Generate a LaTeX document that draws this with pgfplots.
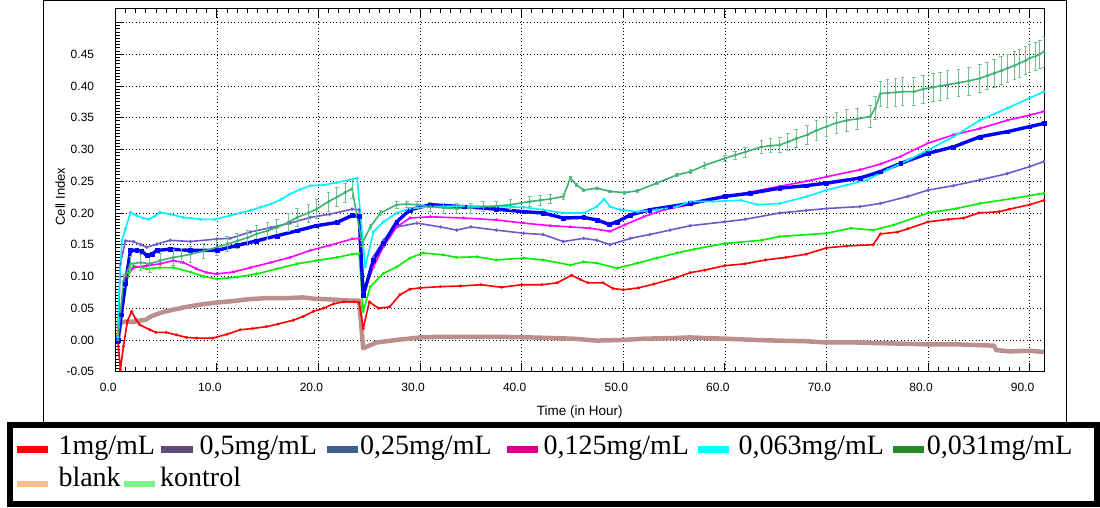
\documentclass[border=0pt]{standalone}
\usepackage{fontspec}
\setmainfont{Liberation Serif}
\newfontfamily\axfont{Liberation Sans}
\usepackage{pgfplots}
\pgfplotsset{compat=1.18}
\usepackage{pgfplotstable}

% plot colours
\definecolor{cred}{RGB}{255,0,0}
\definecolor{cpurple}{RGB}{106,90,205}
\definecolor{cblue}{RGB}{0,0,255}
\definecolor{cmagenta}{RGB}{255,0,255}
\definecolor{ccyan}{RGB}{0,240,255}
\definecolor{clime}{RGB}{0,240,0}
\definecolor{cbrown}{RGB}{188,143,143}
\definecolor{ckontrol}{RGB}{60,179,113}
\definecolor{kerr}{RGB}{110,195,145}
% legend colours
\definecolor{lred}{RGB}{255,0,0}
\definecolor{lpurple}{RGB}{96,76,122}
\definecolor{lblue}{RGB}{61,96,140}
\definecolor{lmagenta}{RGB}{210,0,140}
\definecolor{lcyan}{RGB}{0,255,255}
\definecolor{lgreen}{RGB}{34,139,34}
\definecolor{lpeach}{RGB}{250,190,140}
\definecolor{llight}{RGB}{120,245,130}

\pgfplotstableread{
x y e
0.25 0.000 0.003
0.8 0.093 0.010
1.5 0.120 0.012
2.5 0.122 0.013
3.4 0.120 0.013
4.4 0.125 0.012
5.7 0.130 0.012
6.5 0.132 0.012
7.4 0.135 0.012
8.7 0.140 0.012
10 0.146 0.012
11 0.151 0.012
12 0.156 0.012
13 0.161 0.012
13.9 0.167 0.013
15 0.172 0.013
15.9 0.177 0.013
17 0.185 0.014
17.9 0.193 0.014
19 0.200 0.014
19.8 0.206 0.015
21 0.218 0.015
21.8 0.225 0.015
22.6 0.232 0.015
23.3 0.238 0.015
24.3 0.152 0.005
25.1 0.178 0.004
26.1 0.200 0.004
27.7 0.213 0.005
28.7 0.214 0.005
29.7 0.213 0.006
31 0.210 0.007
32.3 0.208 0.008
33.6 0.207 0.008
35 0.208 0.008
36.2 0.210 0.008
37.5 0.211 0.008
38.9 0.213 0.008
40.8 0.218 0.008
41.8 0.220 0.008
42.8 0.222 0.007
44.1 0.226 0.005
44.8 0.255 0.002
45.4 0.244 0.002
46.1 0.236 0.002
47.4 0.239 0.002
48.7 0.234 0.002
50.1 0.232 0.002
51.4 0.235 0.002
53.3 0.247 0.002
55.3 0.260 0.002
56.6 0.265 0.003
58 0.275 0.004
60 0.286 0.005
61 0.291 0.006
62 0.296 0.008
63.6 0.304 0.010
64.5 0.306 0.011
65.4 0.307 0.012
66.2 0.312 0.013
67 0.317 0.014
68.1 0.323 0.015
69 0.330 0.016
70 0.336 0.016
71 0.342 0.017
72 0.346 0.017
73 0.348 0.017
74.3 0.352 0.017
74.8 0.365 0.018
75.3 0.388 0.020
76 0.389 0.022
76.8 0.390 0.022
77.5 0.391 0.022
78.6 0.391 0.022
79.5 0.395 0.022
80.5 0.398 0.022
81.2 0.400 0.022
81.9 0.402 0.022
83 0.405 0.022
84 0.408 0.022
85.1 0.412 0.022
85.8 0.416 0.022
86.5 0.420 0.022
87.2 0.424 0.022
87.8 0.428 0.022
88.5 0.432 0.022
89 0.436 0.022
89.6 0.440 0.022
90 0.444 0.022
90.6 0.447 0.022
91 0.450 0.022
91.4 0.454 0.024
}\kontrol

\begin{document}
\begin{tikzpicture}[x=1pt,y=1pt]
\useasboundingbox (0,0) rectangle (1100,-508);
% outer chart frame
\draw[black, line width=0.8pt] (43.3,-422) -- (43.3,-0.5) -- (1066.7,-0.5) -- (1066.7,-422);

\begin{axis}[
  at={(115.3pt,-371.7pt)}, anchor=south west,
  scale only axis, width=929pt, height=363.2pt,
  xmin=0, xmax=91.44, ymin=-0.05, ymax=0.522,
  xtick={0,10,...,90},
  xticklabels={0.0,10.0,20.0,30.0,40.0,50.0,60.0,70.0,80.0,90.0},
  ytick={-0.05,0,0.05,0.1,0.15,0.2,0.25,0.3,0.35,0.4,0.45,0.5},
  yticklabels={-0.05,0.00,0.05,0.10,0.15,0.20,0.25,0.30,0.35,0.40,0.45,{}},
  minor x tick num=9, minor y tick num=9,
  tick align=inside, ytick pos=left,
  major tick length=9pt, minor tick length=4.5pt,
  tick style={black, line width=0.8pt},
  axis line style={black, line width=1pt},
  grid=major,
  major grid style={black, line width=0.6pt, dash pattern=on 0.8pt off 2.6pt},
  tick label style={font=\axfont\fontsize{12}{14}\selectfont, inner sep=0pt},
  xticklabel style={yshift=-11.3pt, xshift=-7pt},
  yticklabel style={xshift=-21pt},
  xlabel={Time (in Hour)}, ylabel={Cell Index},
  every axis x label/.style={at={(rel axis cs:0.5,0)}, anchor=center, yshift=-40.5pt,
    font=\axfont\fontsize{13.5}{15}\selectfont},
  every axis y label/.style={at={(rel axis cs:0,0.482)}, xshift=-55pt, anchor=center, rotate=90,
    font=\axfont\fontsize{13}{15}\selectfont},
  clip=true,
  every axis plot/.append style={line join=round},
]
% blank
\addplot[cbrown, line width=4.5pt, mark=none] coordinates {
(0.25,0.0)(0.5,0.027)(1,0.029)(2,0.029)(3,0.032)(3.5,0.037)(4.5,0.043)(5.5,0.047)
(7,0.052)(8.5,0.056)(10,0.059)(11.5,0.061)(13,0.064)(15,0.066)(17,0.066)(18.5,0.067)
(19.5,0.065)(21,0.064)(23,0.062)(24,0.062)(24.4,-0.013)(25.7,-0.004)(27.7,0.0)(30,0.004)
(32,0.005)(35,0.005)(37.5,0.005)(40.8,0.004)(43,0.003)(45,0.002)(47.4,-0.001)(50,0.0)
(52,0.002)(55,0.003)(56.6,0.004)(58,0.003)(60,0.002)(63,0.0)(65,-0.001)(68,-0.002)
(70,-0.004)(73,-0.004)(75,-0.005)(78,-0.006)(80,-0.007)(83,-0.007)(86.5,-0.009)
(86.7,-0.016)(88,-0.018)(90,-0.017)(91.4,-0.019)};
% 1mg/mL
\addplot[cred, line width=1.6pt, mark=*, mark size=1.4pt, mark options={line width=0.3pt}] coordinates {
(0.25,0.0)(0.5,-0.047)(0.8,-0.01)(1.2,0.03)(1.6,0.045)(2.0,0.033)(2.4,0.024)(3.4,0.016)
(4,0.012)(5,0.012)(6,0.008)(7,0.004)(8,0.003)(9.6,0.003)(11,0.009)(12.3,0.016)(13.5,0.018)
(14.9,0.021)(16,0.025)(17.5,0.031)(18.5,0.037)(19.5,0.045)(20.5,0.05)(21.5,0.057)
(22.5,0.06)(23.5,0.06)(24.0,0.059)(24.4,0.018)(25.0,0.06)(25.9,0.05)(27,0.052)(28,0.071)
(29,0.08)(30,0.082)(32,0.084)(34,0.085)(36,0.087)(38,0.083)(40,0.087)(42,0.087)
(43.5,0.09)(44.9,0.102)(45.8,0.095)(46.5,0.09)(48,0.09)(49,0.081)(50,0.079)(51.5,0.082)
(53,0.088)(55,0.097)(56.6,0.106)(58,0.11)(60,0.117)(62,0.12)(64,0.126)(66,0.13)
(68,0.135)(70,0.145)(72,0.148)(74.6,0.15)(75.3,0.167)(77,0.17)(78,0.175)(80,0.186)
(82,0.19)(83.5,0.192)(85,0.2)(87,0.202)(88,0.206)(90,0.213)(91.4,0.22)};
% 0,031mg/mL
\addplot[clime, line width=1.6pt, mark=*, mark size=1.4pt, mark options={line width=0.3pt}] coordinates {
(0.25,0.0)(0.6,0.04)(1.3,0.105)(1.8,0.117)(3.1,0.112)(4.4,0.114)(5.7,0.114)(7.4,0.107)
(8.7,0.1)(10,0.096)(12,0.099)(13.9,0.104)(15.9,0.112)(17.9,0.12)(19.8,0.125)(21.8,0.13)
(23.3,0.135)(24.0,0.136)(24.4,0.045)(25.1,0.084)(26.4,0.105)(27.7,0.115)(29,0.129)
(30.3,0.137)(32.3,0.134)(33.6,0.13)(35.6,0.131)(37.5,0.126)(40.2,0.129)(42.1,0.126)
(44.8,0.118)(46.1,0.123)(47.4,0.121)(49.4,0.113)(51.4,0.121)(53.3,0.129)(55.3,0.137)
(57,0.143)(60,0.152)(63.6,0.157)(65.4,0.163)(70,0.168)(72.4,0.176)(74.6,0.173)
(76.6,0.181)(80,0.2)(82.8,0.207)(85.1,0.215)(88.4,0.223)(91.4,0.231)};
% 0,5mg/mL
\addplot[cpurple, line width=1.6pt, mark=diamond*, mark size=1.7pt, mark options={line width=0.3pt}] coordinates {
(0.25,0.0)(0.5,0.12)(1.0,0.156)(1.8,0.155)(2.5,0.15)(3.1,0.146)(4.1,0.151)(5.4,0.157)
(7.4,0.155)(10,0.159)(11.3,0.16)(13.3,0.17)(15.3,0.177)(17.2,0.184)(19.2,0.193)
(21.1,0.198)(23.3,0.206)(24.0,0.205)(24.4,0.07)(25.4,0.131)(26.4,0.157)(27.7,0.178)
(29.7,0.184)(32,0.178)(33.6,0.173)(35,0.178)(37.5,0.173)(40.2,0.168)(42.1,0.166)
(44.1,0.155)(46.1,0.16)(47.4,0.157)(48.7,0.15)(50.7,0.16)(52.6,0.166)(54.6,0.173)
(56.6,0.18)(60,0.186)(62,0.19)(65.4,0.2)(68,0.204)(70,0.207)(73.3,0.21)(75.3,0.215)
(78,0.226)(80,0.236)(82.5,0.243)(85.1,0.252)(87.8,0.262)(90,0.273)(91.4,0.281)};
% 0,125mg/mL
\addplot[cmagenta, line width=1.6pt, mark=triangle*, mark size=1.7pt, mark options={line width=0.3pt}] coordinates {
(0.25,0.0)(0.6,0.04)(1.1,0.1)(1.8,0.114)(3.1,0.117)(4.4,0.12)(5.7,0.125)(6.7,0.122)
(8,0.112)(9,0.106)(10,0.104)(11.6,0.107)(13.3,0.114)(15.3,0.122)(17.2,0.13)(19.2,0.141)
(21.1,0.149)(23.3,0.159)(24.0,0.16)(24.4,0.072)(25.4,0.115)(26.4,0.147)(27.7,0.178)
(29,0.192)(31,0.194)(34.3,0.192)(37.5,0.189)(40.2,0.184)(42.8,0.18)(44.8,0.178)
(46.7,0.176)(48.7,0.171)(50.1,0.181)(52,0.194)(54,0.205)(56.6,0.213)(60,0.226)
(62.5,0.233)(65.4,0.242)(68,0.25)(70,0.257)(73.3,0.268)(75.3,0.277)(77.3,0.289)
(80,0.31)(82.5,0.323)(85.1,0.333)(87.8,0.346)(90,0.354)(91.4,0.36)};
% 0,25mg/mL
\addplot[cblue, line width=3.4pt, mark=square*, mark size=1.9pt, mark options={line width=0.3pt}] coordinates {
(0.25,0.0)(0.6,0.04)(1.0,0.09)(1.5,0.141)(2.1,0.141)(2.6,0.14)(3.1,0.133)(3.6,0.135)
(4.1,0.141)(5.4,0.143)(7.4,0.141)(10,0.141)(12,0.149)(13.9,0.156)(15.9,0.164)(17.9,0.172)
(19.8,0.18)(21.8,0.185)(23.3,0.196)(24.0,0.195)(24.4,0.07)(25.4,0.126)(26.4,0.152)
(27.7,0.186)(29,0.205)(31,0.213)(34.3,0.21)(37.5,0.206)(40.2,0.202)(42.1,0.2)(44.1,0.192)
(46.1,0.193)(47.4,0.189)(48.6,0.182)(49.4,0.186)(50.7,0.197)(52.6,0.205)(54.6,0.21)
(56.6,0.215)(60,0.226)(62.5,0.231)(65.4,0.239)(68,0.243)(70,0.247)(73.3,0.255)
(75.3,0.265)(77.3,0.278)(80,0.294)(82.5,0.304)(85.1,0.32)(87.8,0.328)(90,0.336)(91.4,0.341)};
% 0,063mg/mL
\addplot[ccyan, line width=1.6pt, mark=*, mark size=1.4pt, mark options={line width=0.3pt}] coordinates {
(0.25,0.004)(0.35,0.075)(0.65,0.156)(1.0,0.175)(1.5,0.201)(2.1,0.196)(2.7,0.192)(3.3,0.19)
(3.9,0.195)(4.4,0.201)(5.4,0.198)(6.7,0.193)(8.4,0.19)(9.8,0.19)(11.3,0.196)(12.3,0.2)
(13.3,0.204)(14.3,0.209)(15.3,0.214)(16.3,0.221)(17.2,0.23)(18.2,0.237)(19.2,0.243)
(20.5,0.244)(21.8,0.248)(23,0.252)(23.8,0.255)(24.6,0.115)(25.4,0.17)(26.4,0.186)
(27.7,0.2)(29,0.207)(31,0.21)(34.3,0.211)(37.5,0.21)(40.2,0.209)(42.1,0.205)(44.1,0.2)
(46.1,0.2)(47.4,0.21)(48.1,0.222)(48.7,0.21)(49.7,0.205)(51.4,0.202)(53.3,0.205)
(55.3,0.21)(56.6,0.218)(58.9,0.218)(61.6,0.22)(63.2,0.213)(65.4,0.215)(68.1,0.226)
(70,0.236)(72,0.244)(74,0.252)(76,0.268)(78,0.283)(80,0.299)(82.5,0.32)(85.1,0.346)
(87.8,0.365)(90,0.381)(91.4,0.391)};
% kontrol
\addplot[ckontrol, line width=1.6pt, mark=triangle*, mark size=1.7pt, mark options={line width=0.3pt},
  error bars/.cd, y dir=both, y explicit,
  error bar style={kerr, line width=0.8pt},
  error mark options={kerr, rotate=90, mark size=1.8pt, line width=0.6pt}]
  table[x=x, y=y, y error=e] {\kontrol};
\end{axis}

% legend box
\draw[black, line width=6pt] (10.3,-424.7) rectangle (1097,-504);
\begin{scope}[every node/.style={anchor=base west, inner sep=0pt,
    font=\fontsize{28}{30}\selectfont}]
\fill[lred] (16.7,-446) rectangle (48.3,-453.3);
\node at (58.3,-454.3) {1mg/mL};
\fill[lpurple] (160.7,-446) rectangle (192.7,-453.3);
\node at (199.3,-454.3) {0,5mg/mL};
\fill[lblue] (326.7,-446) rectangle (358.3,-453.3);
\node at (360,-454.3) {0,25mg/mL};
\fill[lmagenta] (506.7,-446) rectangle (538.3,-453.3);
\node at (543.3,-454.3) {0,125mg/mL};
\fill[lcyan] (698.3,-446) rectangle (729.3,-453.3);
\node at (738.3,-454.3) {0,063mg/mL};
\fill[lgreen] (893.3,-446) rectangle (924,-453.3);
\node at (926.7,-454.3) {0,031mg/mL};
\fill[lpeach] (16.7,-481) rectangle (48.3,-486.7);
\node at (58.3,-486.7) {blank};
\fill[llight] (124,-481) rectangle (155,-486.7);
\node at (160,-486.7) {kontrol};
\end{scope}
\end{tikzpicture}
\end{document}
